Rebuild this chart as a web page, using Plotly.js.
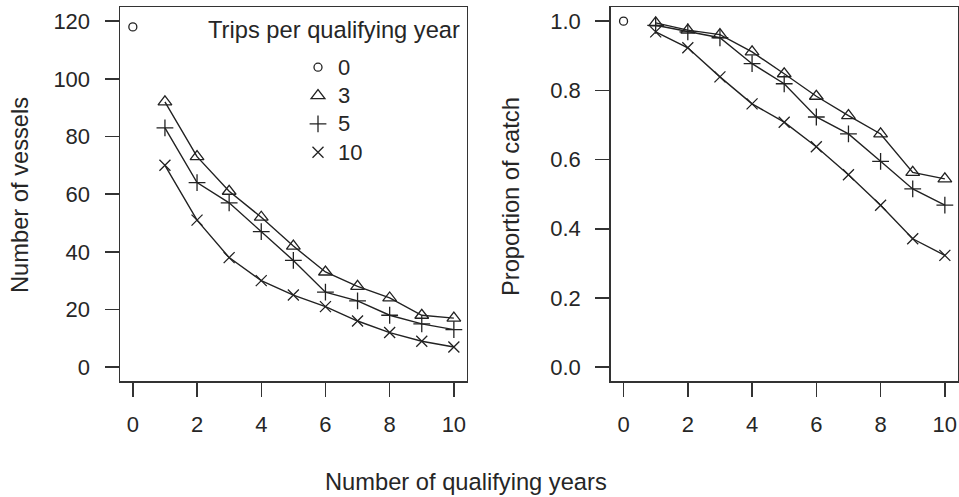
<!DOCTYPE html>
<html>
<head>
<meta charset="utf-8">
<script src="https://cdn.plot.ly/plotly-3.0.1.min.js"></script>
<style>
  html, body { margin: 0; padding: 0; background: #ffffff; }
  #chart { width: 959px; height: 497px; }
</style>
</head>
<body>
<div id="chart"></div>
<script>
// Number of qualifying years (x) shared by both panels
const qualYears = [1, 2, 3, 4, 5, 6, 7, 8, 9, 10];
const baseYear = [0];

// Left panel: number of vessels that qualify
const vessels0 = [118];
const vessels3 = [92, 73, 61, 52, 42, 33, 28, 24, 18, 17];
const vessels5 = [83, 64, 57, 47, 37, 26, 23, 18, 15, 13];
const vessels10 = [70, 51, 38, 30, 25, 21, 16, 12, 9, 7];

// Right panel: proportion of catch held by qualifying vessels
const catch0 = [1.0];
const catch3 = [0.995, 0.974, 0.961, 0.911, 0.848, 0.783, 0.727, 0.674, 0.563, 0.544];
const catch5 = [0.988, 0.969, 0.952, 0.877, 0.819, 0.723, 0.674, 0.595, 0.515, 0.468];
const catch10 = [0.969, 0.923, 0.839, 0.761, 0.708, 0.637, 0.556, 0.468, 0.371, 0.323];

// Legend entries: trips per qualifying year
const tripLabels = ['0', '3', '5', '10'];
const xTicks = [0, 2, 4, 6, 8, 10];
const vesselTicks = [0, 20, 40, 60, 80, 100, 120];
const catchTicks = [0, 0.2, 0.4, 0.6, 0.8, 1.0];

const W = 959, H = 497;
const ink = '#222222';
const textInk = '#262626';
const FONT = 'Liberation Sans, Arial, Helvetica, sans-serif';
const FS = 22;      // tick labels and legend keys
const FS_T = 23.7;  // titles

const symbols = ['circle-open', 'triangle-up-open', 'cross-thin-open', 'x-thin-open'];
const sizes = [8, 12, 12, 11];

function series(x, y, k, xa, ya) {
  return {
    x: x, y: y, xaxis: xa, yaxis: ya,
    mode: k === 0 ? 'markers' : 'lines+markers',
    showlegend: false,
    line: { color: ink, width: 1.4 },
    marker: { symbol: symbols[k], size: sizes[k], color: ink, line: { color: ink, width: 1.3 } },
    hoverinfo: 'x+y'
  };
}

const traces = [
  series(baseYear, vessels0, 0, 'x', 'y'),
  series(qualYears, vessels3, 1, 'x', 'y'),
  series(qualYears, vessels5, 2, 'x', 'y'),
  series(qualYears, vessels10, 3, 'x', 'y'),
  series(baseYear, catch0, 0, 'x2', 'y2'),
  series(qualYears, catch3, 1, 'x2', 'y2'),
  series(qualYears, catch5, 2, 'x2', 'y2'),
  series(qualYears, catch10, 3, 'x2', 'y2')
];

// symbol-only legend keys
tripLabels.forEach(function (lab, k) {
  traces.push({
    x: [null], y: [null], xaxis: 'x', yaxis: 'y',
    mode: 'markers', showlegend: true,
    name: '<span style="font-size:' + FS + 'px">' + lab + '</span>',
    marker: { symbol: symbols[k], size: sizes[k], color: ink, line: { color: ink, width: 1.3 } }
  });
});

function px(x) { return x / W; }
function py(y) { return 1 - y / H; }

const axisCommon = {
  showgrid: false, zeroline: false,
  showline: true, mirror: true, linecolor: '#333333', linewidth: 1.5,
  ticks: 'outside', ticklen: 14, tickwidth: 1.5, tickcolor: '#333333',
  tickfont: { family: FONT, size: FS, color: textInk },
  automargin: false, fixedrange: true
};

const layout = {
  width: W, height: H,
  margin: { l: 0, r: 0, t: 0, b: 0 },
  paper_bgcolor: '#ffffff', plot_bgcolor: '#ffffff',
  font: { family: FONT, size: FS, color: textInk },
  xaxis: Object.assign({}, axisCommon, {
    domain: [px(120), px(466.7)], range: [-0.4, 10.4],
    tickvals: xTicks, ticklabelstandoff: 9, anchor: 'y'
  }),
  yaxis: Object.assign({}, axisCommon, {
    domain: [py(381), py(7.3)], range: [-4.8, 124.8],
    tickvals: vesselTicks, ticklabelstandoff: 10, anchor: 'x'
  }),
  xaxis2: Object.assign({}, axisCommon, {
    domain: [px(610.7), px(957.7)], range: [-0.4, 10.4],
    tickvals: xTicks, ticklabelstandoff: 9, anchor: 'y2'
  }),
  yaxis2: Object.assign({}, axisCommon, {
    domain: [py(381), py(7.3)], range: [-0.04, 1.04],
    tickvals: catchTicks, tickformat: '.1f', ticklabelstandoff: 10, anchor: 'x2'
  }),
  showlegend: true,
  legend: {
    x: px(298), y: py(48), xanchor: 'left', yanchor: 'top',
    bgcolor: 'rgba(0,0,0,0)', borderwidth: 0,
    font: { family: FONT, size: 19.5, color: textInk },
    itemclick: false, itemdoubleclick: false
  },
  annotations: [
    { text: 'Trips per qualifying year', xref: 'paper', yref: 'paper',
      x: px(462), y: py(30), xanchor: 'right', yanchor: 'middle', showarrow: false,
      font: { family: FONT, size: FS_T, color: textInk } },
    { text: 'Number of vessels', xref: 'paper', yref: 'paper', textangle: -90,
      x: px(20), y: py(195), xanchor: 'center', yanchor: 'middle', showarrow: false,
      font: { family: FONT, size: FS_T, color: textInk } },
    { text: 'Proportion of catch', xref: 'paper', yref: 'paper', textangle: -90,
      x: px(511), y: py(197), xanchor: 'center', yanchor: 'middle', showarrow: false,
      font: { family: FONT, size: FS_T, color: textInk } },
    { text: 'Number of qualifying years', xref: 'paper', yref: 'paper',
      x: px(466), y: py(482), xanchor: 'center', yanchor: 'middle', showarrow: false,
      font: { family: FONT, size: FS_T, color: textInk } }
  ]
};

Plotly.newPlot('chart', traces, layout, { displayModeBar: false, staticPlot: true });
</script>
</body>
</html>
